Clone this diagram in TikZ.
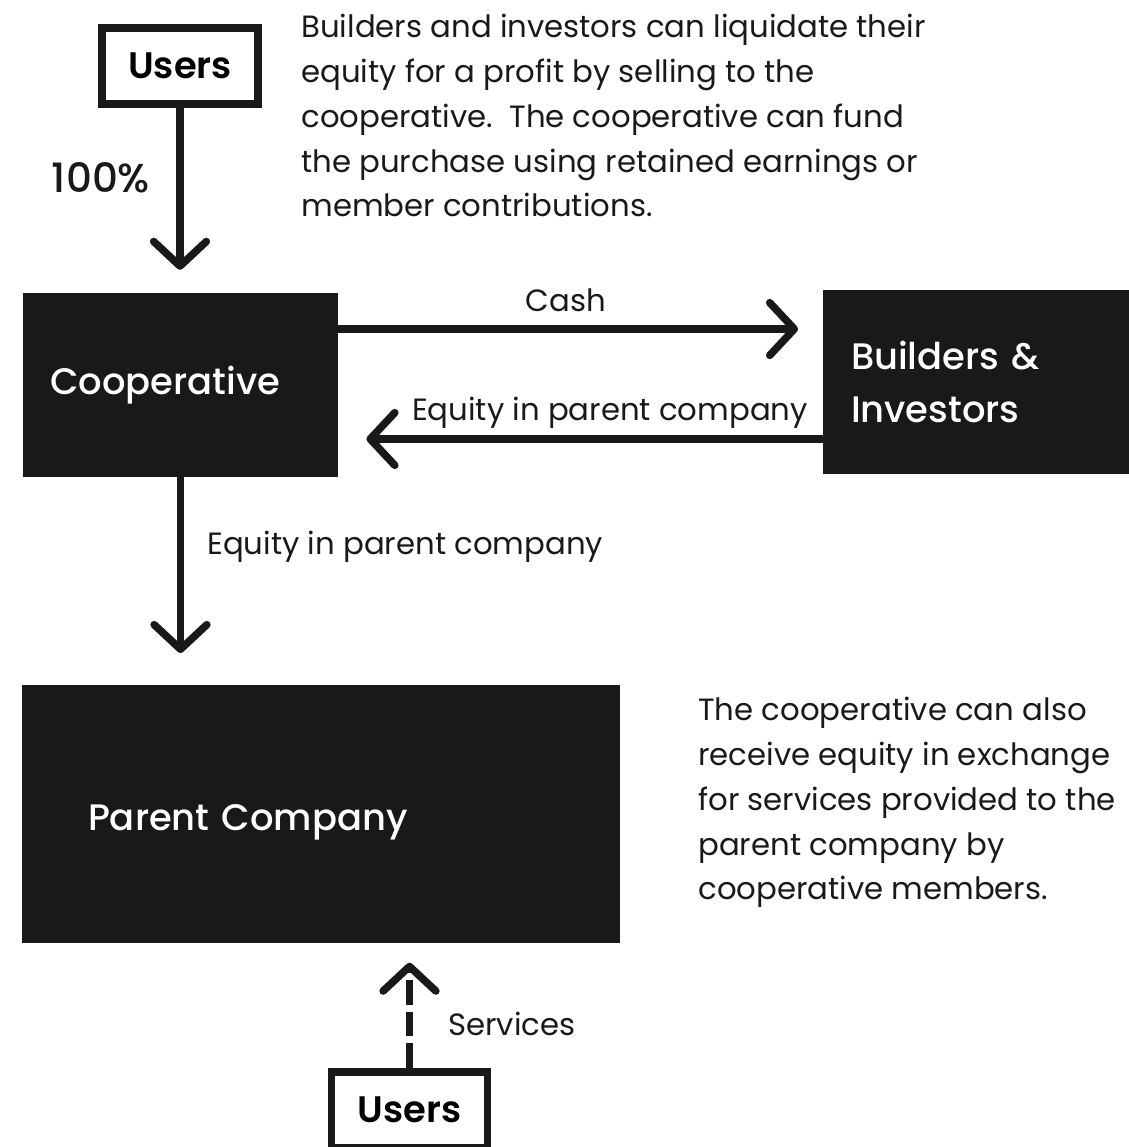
\documentclass[tikz,border=0pt]{standalone}
\usepackage{fontspec}
\setmainfont{Poppins}[BoldFont={Poppins SemiBold}]
\newfontfamily\mediumfont{Poppins Medium}
\usetikzlibrary{arrows.meta,positioning}

\begin{document}
\begin{tikzpicture}[x=0.02cm,y=-0.02cm]
		\tikzstyle{block}=[rectangle, fill=black!90, text=white, inner sep=0pt, font=\mediumfont\fontsize{21}{30.6}\selectfont]
		\tikzstyle{user}=[rectangle, draw=black!90, line width=4.5pt, minimum width=3.12cm, minimum height=1.52cm, font=\bfseries\fontsize{21}{26}\selectfont]
		\tikzstyle{note}=[anchor=north west, align=left, inner sep=0pt, text=black!90, font=\fontsize{17.5}{25.5}\selectfont]
		\tikzstyle{label}=[inner sep=0pt, text=black!90, font=\fontsize{17.5}{21}\selectfont]
		\tikzstyle{connect}=[-{Straight Barb[length=14pt,width=30pt,round]}, line width=4.3pt, draw=black!90]
		\useasboundingbox (0,0) rectangle (1129,1147);
		
		\node[user] (users) at (180,66) {Users};
		\node[label, font=\mediumfont\fontsize{23}{27}\selectfont] (share) at (101,178) {100\%};
		
		\node[note] (buynote) at (301,14) {Builders and investors can liquidate their\\equity for a profit by selling to the\\cooperative.\ \ The cooperative can fund\\the purchase using retained earnings or\\member contributions.};
		
		\node[block, minimum width=6.3cm, minimum height=3.68cm, inner xsep=0.54cm, text width=5.22cm, align=left] (coop) at (180.5,385) {Cooperative};
		\node[block, minimum width=6.12cm, minimum height=3.68cm, inner xsep=0.56cm, text width=5cm, align=left] (builders) at (976,382) {Builders \&\\Investors};
		\node[block, minimum width=11.96cm, minimum height=5.16cm, inner xsep=1.32cm, text width=9.32cm, align=left, text height=24pt, text depth=5pt] (parent) at (321,814) {Parent Company};
		
		\node[note] (servnote) at (698,697) {The cooperative can also\\receive equity in exchange\\for services provided to the\\parent company by\\cooperative members.};
		
		\node[user] (members) at (409.5,1110) {Users};
		
		\coordinate (cashstart) at ([yshift=1.12cm]coop.east);
		\coordinate (equitystart) at ([yshift=-1.14cm]builders.west);
		
		\draw[connect, shorten >=13pt] (users.south) -- (users.south |- coop.north);
		\draw[connect, shorten >=14pt] (cashstart) -- (cashstart -| builders.west);
		\draw[connect, shorten >=16pt] (equitystart) -- (equitystart -| coop.east);
		\draw[connect, shorten >=18pt] (coop.south) -- (coop.south |- parent.north);
		\draw[connect, shorten >=11pt, dash pattern=on 14pt off 4pt] (members.north) -- (members.north |- parent.south);
		
		\node[label] (cash) at (566,300) {Cash};
		\node[label] (equityback) at (610,413) {Equity in parent company};
		\node[label, anchor=west] (equitydown) at (207,547) {Equity in parent company};
		\node[label, anchor=west] (services) at (448,1024) {Services};

	\end{tikzpicture}
\end{document}
